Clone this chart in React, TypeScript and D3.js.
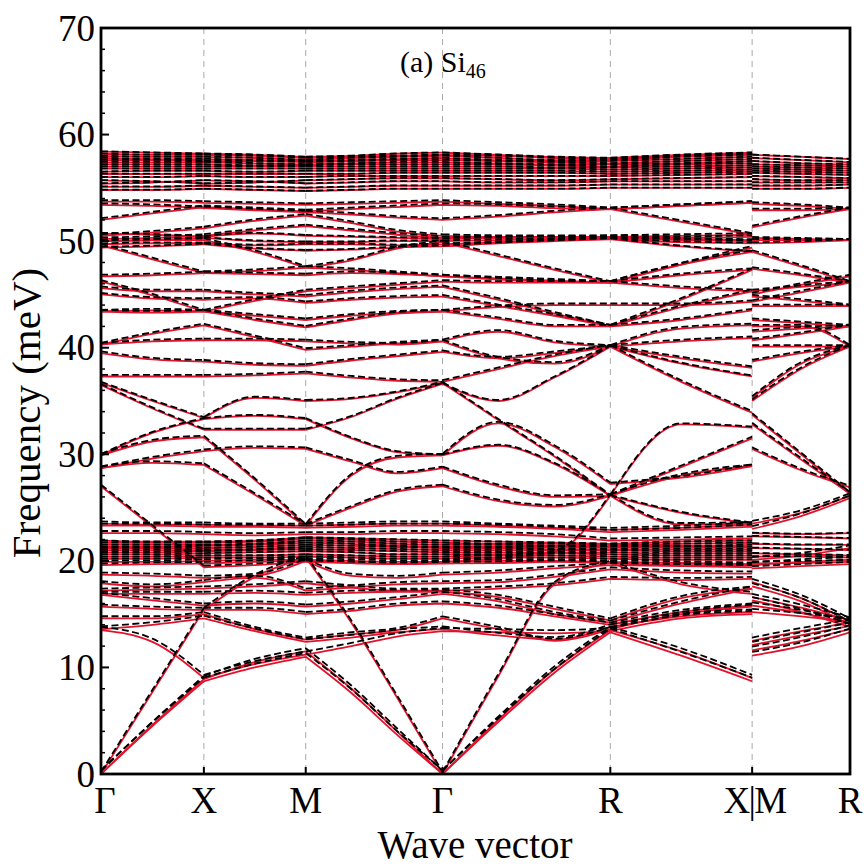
import React from 'react';
import * as d3 from 'd3';

const W = 866;
const H = 867;

// high-symmetry path
const kTicks = [0, 1.03, 2.05, 3.42, 5.1, 6.52, 7.5];
const kLabels = ['Γ', 'X', 'M', 'Γ', 'R', 'X|M', 'R'];
const yTicks = [0, 10, 20, 30, 40, 50, 60, 70];
const yMinor = [2, 4, 6, 8, 12, 14, 16, 18, 22, 24, 26, 28, 32, 34, 36, 38, 42, 44, 46, 48, 52, 54, 56, 58, 62, 64, 66, 68];

// sample k points, part A: Γ - X - M - Γ - R - X
const kA = [0, 0.515, 1.03, 1.54, 2.05, 2.507, 2.963, 3.42, 3.98, 4.54, 5.1, 5.81, 6.52];
const segA = [[0, 2], [2, 4], [4, 7], [7, 10], [10, 12]];
// part B: M - R
const kB = [6.52, 7.01, 7.5];

// rows: [dashed-curve shift, values at kA...] (meV)
const lowBandsA = [
  [0.35, 0, 4.5, 8.7, 10.0, 11.0, 7.6, 3.7, 0, 4.9, 9.5, 13.3, 11.1, 8.7],
  [0.3, 0, 4.6, 8.9, 10.5, 11.5, 8.0, 4.0, 0, 5.1, 9.8, 13.5, 11.5, 9.0],
  [0.2, 0, 7.7, 15.4, 18.5, 20.3, 14.2, 7.2, 0, 9.2, 17.8, 19.8, 17.8, 16.9],
  [0.3, 13.5, 12.4, 9.0, 10.3, 11.2, 12.0, 12.9, 13.4, 13.3, 13.2, 13.4, 14.6, 15.0],
  [0.25, 13.6, 14.0, 14.6, 13.4, 12.4, 12.8, 13.3, 13.6, 13.0, 12.6, 13.8, 14.8, 15.2],
  [0.2, 14.6, 14.6, 15.0, 13.6, 12.6, 13.1, 13.5, 14.6, 13.6, 12.5, 13.6, 15.0, 15.7],
  [0.2, 15.7, 15.5, 15.4, 15.4, 15.0, 15.3, 15.8, 16.0, 15.6, 14.8, 14.0, 15.2, 15.8],
  [0.2, 16.8, 16.3, 15.8, 16.0, 15.7, 16.0, 16.4, 16.9, 16.2, 15.0, 14.2, 16.0, 17.4],
  [0.2, 16.9, 16.9, 16.9, 17.0, 16.8, 17.0, 17.1, 17.1, 16.6, 15.5, 14.4, 16.5, 17.4],
  [0.2, 17.2, 17.3, 17.4, 17.6, 17.9, 17.5, 17.2, 17.2, 17.4, 17.7, 18.3, 18.2, 18.3],
  [0.2, 17.9, 17.6, 18.0, 18.4, 17.2, 17.5, 17.8, 17.9, 18.0, 18.5, 19.2, 18.9, 18.8],
  [0.2, 18.7, 18.6, 18.4, 18.6, 20.0, 18.6, 18.4, 18.7, 18.9, 19.3, 19.6, 19.5, 19.4],
  [0.15, 19.6, 19.7, 19.75, 19.9, 20.0, 19.8, 19.7, 19.75, 19.8, 19.9, 19.8, 19.6, 19.6],
  [0.15, 19.9, 19.9, 20.0, 20.1, 20.1, 20.0, 19.9, 19.9, 20.0, 20.0, 19.9, 19.8, 19.7],
];

const denseLowA = [
  [0.03, 20.2, 20.2, 20.3, 20.3, 20.4, 20.3, 20.2, 20.2, 20.3, 20.3, 20.2, 20.1, 20.1],
  [0.03, 20.4, 20.4, 20.5, 20.5, 20.6, 20.5, 20.4, 20.4, 20.5, 20.5, 20.4, 20.3, 20.3],
  [0.03, 20.6, 20.6, 20.7, 20.8, 20.9, 20.8, 20.6, 20.6, 20.6, 20.7, 20.6, 20.5, 20.5],
  [0.03, 20.8, 20.8, 20.9, 21.0, 21.1, 21.0, 20.9, 20.8, 20.8, 20.8, 20.8, 20.7, 20.7],
  [0.03, 21.0, 21.0, 21.0, 21.1, 21.3, 21.2, 21.1, 21.0, 21.0, 21.0, 21.0, 20.9, 20.9],
  [0.03, 21.2, 21.2, 21.2, 21.3, 21.5, 21.4, 21.3, 21.2, 21.2, 21.1, 21.1, 21.1, 21.1],
  [0.03, 21.3, 21.3, 21.4, 21.5, 21.7, 21.6, 21.4, 21.3, 21.3, 21.3, 21.3, 21.3, 21.3],
  [0.03, 21.5, 21.5, 21.5, 21.6, 21.9, 21.8, 21.6, 21.5, 21.5, 21.4, 21.4, 21.4, 21.5],
  [0.03, 21.7, 21.7, 21.7, 21.8, 22.1, 22.0, 21.8, 21.7, 21.6, 21.6, 21.5, 21.6, 21.7],
  [0.03, 21.9, 21.8, 21.8, 21.9, 22.2, 22.1, 22.0, 21.9, 21.8, 21.7, 21.6, 21.8, 21.9],
  [0.2, 22.6, 22.6, 22.5, 22.4, 22.5, 22.5, 22.6, 22.6, 22.5, 22.3, 21.9, 22.0, 22.1],
  [0.2, 23.3, 23.3, 23.2, 23.2, 23.1, 23.2, 23.3, 23.3, 23.2, 23.0, 22.7, 22.9, 23.2],
  [0.2, 23.5, 23.4, 23.4, 23.3, 23.3, 23.4, 23.5, 23.5, 23.3, 23.1, 22.9, 23.1, 23.4],
];

const midBandsA = [
  [0.1, 36.7, 35.0, 33.4, 35.3, 35.0, 35.2, 35.8, 36.7, 33.2, 29.8, 26.1, 32.8, 32.5],
  [0.1, 36.5, 34.3, 32.3, 32.3, 32.3, 33.5, 35.2, 36.6, 35.0, 37.2, 40.1, 38.5, 37.3],
  [0.15, 29.9, 31.2, 31.6, 27.6, 23.3, 28.0, 29.7, 29.9, 32.9, 30.7, 27.2, 27.8, 28.9],
  [0.15, 28.7, 29.2, 29.0, 26.2, 23.3, 25.0, 26.5, 27.0, 25.6, 25.1, 26.1, 23.4, 23.5],
  [0.15, 27.0, 23.2, 19.4, 19.6, 19.9, 19.8, 19.7, 19.9, 20.2, 20.8, 26.1, 28.0, 28.9],
  [0.15, 28.7, 29.6, 30.3, 30.6, 30.5, 29.3, 28.2, 28.7, 27.0, 26.0, 26.1, 28.8, 31.5],
  [0.1, 29.9, 32.0, 33.3, 33.6, 33.3, 31.5, 30.2, 29.9, 30.8, 29.1, 26.1, 24.5, 23.5],
];

const upperBandsA = [
  [0.15, 37.3, 37.3, 37.3, 37.4, 37.6, 37.2, 36.9, 36.8, 38.0, 39.2, 40.1, 36.8, 33.9],
  [0.15, 39.5, 38.9, 38.7, 38.4, 38.3, 38.8, 39.2, 39.6, 39.0, 39.5, 40.1, 39.0, 38.1],
  [0.15, 40.3, 41.3, 42.1, 41.0, 39.8, 40.1, 40.4, 40.6, 41.5, 40.5, 40.1, 40.6, 40.9],
  [0.15, 40.3, 40.6, 40.7, 40.7, 40.6, 40.4, 40.3, 40.6, 39.0, 38.5, 40.1, 41.8, 42.1],
  [0.15, 43.4, 43.3, 43.4, 42.6, 41.9, 42.6, 43.2, 43.4, 42.7, 42.0, 42.0, 42.6, 43.5],
  [0.15, 43.4, 43.5, 43.4, 43.0, 42.6, 43.0, 43.3, 43.4, 43.8, 44.0, 44.0, 44.0, 44.3],
  [0.15, 45.0, 44.6, 44.5, 44.6, 44.2, 44.5, 44.7, 44.8, 43.9, 43.0, 42.0, 43.8, 45.3],
  [0.15, 45.6, 45.3, 45.3, 45.0, 44.8, 45.2, 45.5, 45.7, 44.5, 43.2, 42.0, 44.5, 47.3],
  [0.15, 46.2, 44.9, 43.4, 44.4, 45.3, 45.6, 45.9, 46.2, 46.1, 46.1, 46.1, 47.8, 49.0],
  [0.15, 46.7, 46.8, 47.0, 47.2, 47.5, 47.3, 47.0, 46.7, 46.4, 46.2, 46.1, 45.6, 45.3],
  [0.15, 49.6, 48.3, 47.0, 46.9, 46.8, 47.0, 46.9, 46.7, 46.5, 46.3, 46.1, 46.8, 47.3],
  [0.15, 50.0, 50.1, 50.1, 49.0, 47.5, 48.2, 49.3, 49.9, 48.6, 47.3, 46.1, 47.8, 49.4],
  [0.08, 49.4, 49.5, 49.7, 49.3, 49.1, 49.2, 49.4, 49.5, 49.8, 50.0, 50.2, 49.5, 49.0],
  [0.08, 49.7, 49.8, 49.8, 49.6, 49.7, 49.7, 49.6, 49.7, 49.9, 50.1, 50.2, 49.9, 49.8],
  [0.08, 50.0, 50.1, 50.3, 50.0, 49.9, 49.9, 50.0, 50.0, 50.1, 50.2, 50.3, 50.1, 50.0],
  [0.15, 50.2, 50.3, 50.5, 51.0, 51.4, 51.0, 50.6, 50.3, 50.3, 50.3, 50.4, 50.3, 50.4],
  [0.15, 50.5, 50.8, 51.2, 51.9, 52.4, 51.7, 50.9, 50.5, 50.4, 50.4, 50.4, 50.5, 50.6],
  [0.08, 50.7, 50.6, 50.4, 50.7, 50.5, 50.4, 50.3, 50.2, 50.3, 50.4, 50.3, 50.2, 50.1],
  [0.15, 53.7, 53.7, 53.6, 53.5, 53.4, 53.5, 53.6, 53.7, 53.5, 53.3, 53.0, 53.3, 53.6],
  [0.15, 52.0, 52.6, 53.2, 53.0, 52.8, 53.0, 53.2, 53.4, 53.3, 53.1, 53.0, 53.3, 53.6],
  [0.15, 53.4, 53.3, 53.1, 52.9, 52.7, 52.5, 52.2, 52.0, 52.3, 52.7, 53.0, 51.8, 50.6],
];

const denseTopA = [
  [0.03, 54.8, 54.8, 54.9, 54.8, 54.7, 54.8, 54.9, 54.9, 54.9, 54.9, 55.0, 55.0, 55.0],
  [0.03, 55.1, 55.1, 55.2, 55.1, 55.0, 55.1, 55.2, 55.2, 55.2, 55.2, 55.3, 55.3, 55.3],
  [0.03, 55.4, 55.5, 55.7, 55.6, 55.4, 55.5, 55.6, 55.6, 55.5, 55.5, 55.6, 55.6, 55.6],
  [0.03, 55.7, 55.6, 55.4, 55.5, 55.7, 55.8, 55.9, 55.9, 55.8, 55.7, 55.8, 55.9, 56.0],
  [0.03, 56.0, 56.0, 56.1, 56.0, 56.0, 56.1, 56.1, 56.1, 56.1, 56.1, 56.1, 56.2, 56.3],
  [0.03, 56.3, 56.3, 56.3, 56.3, 56.3, 56.3, 56.4, 56.4, 56.4, 56.4, 56.3, 56.4, 56.5],
  [0.03, 56.5, 56.6, 56.6, 56.5, 56.6, 56.6, 56.6, 56.6, 56.6, 56.6, 56.5, 56.6, 56.7],
  [0.03, 56.8, 56.8, 56.8, 56.8, 56.8, 56.8, 56.8, 56.8, 56.8, 56.8, 56.7, 56.8, 56.9],
  [0.03, 57.0, 57.0, 57.0, 57.0, 57.0, 57.0, 57.0, 57.0, 57.0, 56.9, 56.9, 57.0, 57.1],
  [0.03, 57.2, 57.2, 57.2, 57.1, 57.1, 57.2, 57.2, 57.2, 57.2, 57.1, 57.0, 57.2, 57.3],
  [0.03, 57.4, 57.4, 57.4, 57.3, 57.2, 57.3, 57.4, 57.4, 57.3, 57.2, 57.2, 57.3, 57.5],
  [0.03, 57.6, 57.6, 57.5, 57.5, 57.4, 57.5, 57.6, 57.6, 57.5, 57.4, 57.3, 57.5, 57.7],
  [0.03, 57.8, 57.7, 57.7, 57.6, 57.5, 57.6, 57.7, 57.8, 57.6, 57.5, 57.5, 57.7, 57.9],
  [0.03, 58.0, 57.9, 57.9, 57.8, 57.6, 57.8, 57.9, 58.0, 57.8, 57.6, 57.6, 57.9, 58.1],
  [0.03, 58.2, 58.1, 58.1, 58.0, 57.8, 57.9, 58.0, 58.1, 58.0, 57.8, 57.7, 58.0, 58.2],
  [0.03, 58.4, 58.3, 58.2, 58.1, 57.9, 58.0, 58.2, 58.3, 58.1, 57.9, 57.8, 58.1, 58.3],
];

// rows: [dashed-curve shift, M, mid, R]
const bandsB = [
  [0.35, 11.1, 12.0, 13.3],
  [0.35, 11.6, 12.5, 13.6],
  [0.3, 12.1, 13.0, 13.9],
  [0.3, 12.5, 13.4, 14.2],
  [0.3, 15.2, 14.8, 14.3],
  [0.3, 15.8, 15.1, 14.1],
  [0.3, 16.3, 15.2, 13.8],
  [0.3, 16.6, 15.6, 14.4],
  [0.3, 17.6, 16.2, 14.0],
  [0.3, 18.0, 16.5, 14.3],
  [0.2, 19.3, 19.5, 19.7],
  [0.2, 19.75, 19.8, 19.9],
  [0.25, 23.5, 24.5, 26.1],
  [0.25, 23.0, 24.2, 25.9],
  [0.05, 22.6, 22.5, 22.6],
  [0.05, 22.3, 22.2, 22.1],
  [0.05, 21.6, 21.5, 21.5],
  [0.05, 21.2, 21.1, 21.0],
  [0.05, 20.7, 20.6, 20.5],
  [0.05, 20.4, 20.4, 20.3],
  [0.25, 20.1, 20.5, 21.2],
  [0.25, 19.6, 19.9, 20.1],
  [0.15, 35.0, 38.0, 40.1],
  [0.15, 35.3, 38.5, 40.1],
  [0.15, 33.7, 30.0, 26.3],
  [0.15, 32.8, 29.5, 26.3],
  [0.15, 30.5, 28.5, 26.9],
  [0.15, 38.7, 39.5, 40.1],
  [0.15, 40.1, 40.1, 40.1],
  [0.15, 40.7, 41.3, 42.0],
  [0.15, 41.5, 41.8, 42.0],
  [0.15, 42.0, 42.0, 40.1],
  [0.15, 42.6, 42.3, 42.0],
  [0.15, 43.9, 43.9, 43.9],
  [0.15, 44.3, 45.2, 46.1],
  [0.15, 44.8, 44.4, 43.9],
  [0.15, 45.3, 45.7, 46.1],
  [0.15, 45.0, 45.9, 46.7],
  [0.15, 47.4, 46.8, 46.1],
  [0.15, 49.0, 47.6, 46.1],
  [0.1, 49.8, 49.9, 50.1],
  [0.1, 50.1, 50.1, 50.1],
  [0.1, 50.3, 50.2, 50.1],
  [0.15, 53.5, 53.3, 53.0],
  [0.15, 52.9, 52.9, 53.0],
  [0.15, 51.3, 52.2, 53.0],
  [0.03, 54.9, 54.9, 55.0],
  [0.03, 55.2, 55.2, 55.3],
  [0.03, 55.5, 55.5, 55.5],
  [0.03, 55.8, 55.7, 55.7],
  [0.03, 56.1, 56.0, 55.9],
  [0.03, 56.4, 56.3, 56.2],
  [0.03, 56.6, 56.5, 56.4],
  [0.03, 56.8, 56.7, 56.6],
  [0.03, 57.0, 56.9, 56.8],
  [0.03, 57.2, 57.1, 57.0],
  [0.03, 57.5, 57.3, 57.2],
  [0.03, 57.8, 57.6, 57.4],
  [0.03, 58.1, 57.9, 57.7],
];

const bandsA = [...lowBandsA, ...denseLowA, ...midBandsA, ...upperBandsA, ...denseTopA];

const RED = '#e2122c';
const FONT = "'Liberation Serif', 'Times New Roman', Times, serif";

export default function App() {
  const x = d3.scaleLinear().domain([0, 7.5]).range([101, 850]);
  const y = d3.scaleLinear().domain([0, 70]).range([774, 28]);
  const line = d3
    .line<[number, number]>()
    .x((d) => x(d[0]))
    .y((d) => y(d[1]))
    .curve(d3.curveMonotoneX);

  const pathA = (row: number[], dashed: boolean) => {
    const off = dashed ? row[0] : 0;
    const v = row.slice(1);
    return segA
      .map(([a, b]) => line(kA.slice(a, b + 1).map((k, i) => [k, v[a + i] + off] as [number, number])) || '')
      .join('');
  };
  const pathB = (row: number[], dashed: boolean) => {
    const off = dashed ? row[0] : 0;
    const v = row.slice(1);
    return line(kB.map((k, i) => [k, v[i] + off] as [number, number])) || '';
  };

  const x0 = x(0), x1 = x(7.5), yb = y(0), yt = y(70);
  const labelX = (k: number, i: number) => x(k) + (i === 0 ? 4 : 0);

  return (
    <svg width={W} height={H} style={{ position: 'absolute', left: 0, top: 0, background: '#fff' }}>
      <defs>
        <clipPath id="plot">
          <rect x={x0} y={yt} width={x1 - x0} height={yb - yt} />
        </clipPath>
      </defs>
      <rect x={0} y={0} width={W} height={H} fill="#fff" />
      {kTicks.slice(1, -1).map((k, i) => (
        <line key={'g' + i} x1={x(k)} x2={x(k)} y1={yt} y2={yb} stroke="#aaa" strokeWidth={1} strokeDasharray="6,5" />
      ))}
      <g clipPath="url(#plot)" fill="none">
        {bandsA.map((r, i) => (
          <path key={'ra' + i} d={pathA(r, false)} stroke={RED} strokeWidth={1.8} />
        ))}
        {bandsB.map((r, i) => (
          <path key={'rb' + i} d={pathB(r, false)} stroke={RED} strokeWidth={1.8} />
        ))}
        {bandsA.map((r, i) => (
          <path key={'ka' + i} d={pathA(r, true)} stroke="#000" strokeWidth={1.8} strokeDasharray="7,3.5" />
        ))}
        {bandsB.map((r, i) => (
          <path key={'kb' + i} d={pathB(r, true)} stroke="#000" strokeWidth={1.8} strokeDasharray="7,3.5" />
        ))}
      </g>
      {/* ticks */}
      {yTicks.map((t) => (
        <line key={'yt' + t} x1={x0} x2={x0 + 8} y1={y(t)} y2={y(t)} stroke="#000" strokeWidth={2} />
      ))}
      {yMinor.map((t) => (
        <line key={'ym' + t} x1={x0} x2={x0 + 4} y1={y(t)} y2={y(t)} stroke="#000" strokeWidth={1.5} />
      ))}
      {kTicks.map((k, i) => (
        <line key={'xt' + i} x1={x(k)} x2={x(k)} y1={yb} y2={yb - 7} stroke="#000" strokeWidth={2} />
      ))}
      <rect x={x0} y={yt} width={x1 - x0} height={yb - yt} fill="none" stroke="#000" strokeWidth={2.8} />
      {/* tick labels */}
      <g fontFamily={FONT} fontSize={37} fill="#000">
        {yTicks.map((t) => (
          <text key={'yl' + t} x={95} y={y(t) + 12.5} textAnchor="end">
            {t}
          </text>
        ))}
        {kTicks.map((k, i) =>
          kLabels[i] === 'X|M' ? (
            <g key={'xl' + i}>
              <text x={x(k) - 2} y={813} textAnchor="end">X</text>
              <text x={x(k)} y={813} textAnchor="middle">|</text>
              <text x={x(k) + 2} y={813} textAnchor="start">M</text>
            </g>
          ) : (
            <text key={'xl' + i} x={labelX(k, i)} y={813} textAnchor="middle">
              {kLabels[i]}
            </text>
          )
        )}
      </g>
      <text x={475} y={858} textAnchor="middle" fontFamily={FONT} fontSize={39}>
        Wave vector
      </text>
      <text transform="translate(40,413) rotate(-90)" textAnchor="middle" fontFamily={FONT} fontSize={41}>
        Frequency (meV)
      </text>
      <text x={400} y={72} fontFamily={FONT} fontSize={30}>
        (a) Si
        <tspan fontSize={20} dy={6}>46</tspan>
      </text>
    </svg>
  );
}
